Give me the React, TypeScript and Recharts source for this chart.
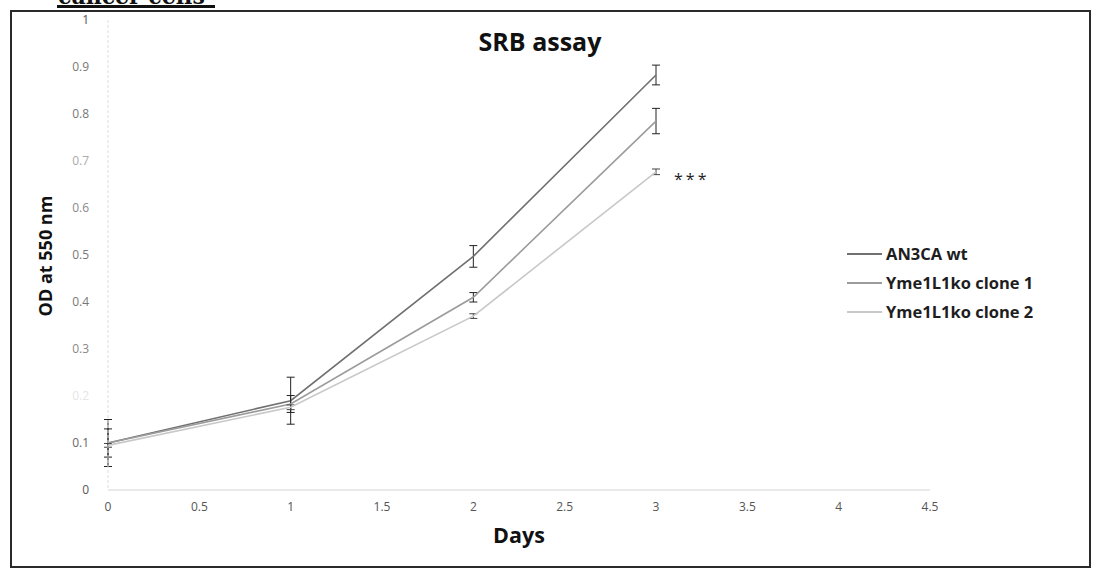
import React from 'react';
import { LineChart, Line, XAxis, YAxis, ErrorBar, LabelList } from 'recharts';

// Optical density (SRB assay) per day, mean and error for each cell line
const days = [0, 1, 2, 3];
const wtOD = [0.1, 0.19, 0.497, 0.883];
const wtErr = [0.05, 0.05, 0.023, 0.021];
const clone1OD = [0.1, 0.183, 0.41, 0.785];
const clone1Err = [0.03, 0.018, 0.01, 0.027];
const clone2OD = [0.095, 0.176, 0.37, 0.677];
const clone2Err = [0.004, 0.005, 0.005, 0.006];
const significance = ['', '', '', '***'];

const seriesNames = ['AN3CA wt', 'Yme1L1ko clone 1', 'Yme1L1ko clone 2'];
const seriesColors = ['#707070', '#9c9c9c', '#c8c8c8'];

const xTicks = [0, 0.5, 1, 1.5, 2, 2.5, 3, 3.5, 4, 4.5];
const yTicks = [0, 0.1, 0.2, 0.3, 0.4, 0.5, 0.6, 0.7, 0.8, 0.9, 1];
const yTickShade = ['#555', '#666', '#e6e6e6', '#888', '#777', '#777', '#888', '#aaa', '#777', '#777', '#555'];

const data = days.map((d, i) => ({
  day: d,
  wt: wtOD[i],
  wtErr: wtErr[i],
  c1: clone1OD[i],
  c1Err: clone1Err[i],
  c2: clone2OD[i],
  c2Err: clone2Err[i],
  sig: significance[i],
}));

const FONT = "'Open Sans', 'DejaVu Sans', sans-serif";

const YTick = (props: any) => {
  const { x, y, payload } = props;
  const idx = yTicks.indexOf(payload.value);
  return (
    <text x={x} y={y} dy="0.35em" textAnchor="end" fontFamily={FONT} fontSize={12} fill={yTickShade[idx] || '#666'}>
      {String(payload.value)}
    </text>
  );
};

const XTick = (props: any) => {
  const { x, y, payload } = props;
  return (
    <text x={x} y={y} dy="0.71em" textAnchor="middle" fontFamily={FONT} fontSize={12} fill="#555">
      {String(payload.value)}
    </text>
  );
};

const SigLabel = (props: any) => {
  const { x, y, value } = props;
  if (!value) return null;
  return (
    <text x={x + 18} y={y + 13} fontFamily={FONT} fontSize={16} fill="#222" letterSpacing={3}>
      {value}
    </text>
  );
};

// Series key, placed to the right of the plot area
const SeriesKey = () => (
  <div style={{ position: 'absolute', left: 847, top: 239, fontFamily: FONT }}>
    {seriesNames.map((name, i) => (
      <div key={name} style={{ display: 'flex', alignItems: 'center', height: 29 }}>
        <span style={{ display: 'inline-block', width: 35, borderTop: `2px solid ${seriesColors[i]}`, marginRight: 4 }} />
        <span style={{ fontSize: 16.5, fontWeight: 700, color: '#1e1e1e', whiteSpace: 'nowrap' }}>{name}</span>
      </div>
    ))}
  </div>
);

export default function App() {
  return (
    <div style={{ position: 'absolute', left: 0, top: 0, width: 1097, height: 571, background: '#fff', overflow: 'hidden' }}>
      <LineChart
        width={1097}
        height={571}
        data={data}
        margin={{ top: 20, right: 167, bottom: 51, left: 48 }}
      >
        <XAxis
          dataKey="day"
          type="number"
          domain={[0, 4.5]}
          ticks={xTicks}
          height={30}
          tickLine={false}
          tickSize={0}
          tickMargin={12}
          stroke="#d4d4d4"
          tick={<XTick />}
        />
        <YAxis
          type="number"
          domain={[0, 1]}
          ticks={yTicks}
          width={60}
          tickLine={false}
          tickSize={0}
          tickMargin={19}
          stroke="#dedede"
          strokeDasharray="3 2"
          tick={<YTick />}
        />
        <Line name={seriesNames[0]} dataKey="wt" stroke={seriesColors[0]} strokeWidth={1.6} dot={false} isAnimationActive={false}>
          <ErrorBar dataKey="wtErr" width={4} stroke="#222" strokeWidth={1} direction="y" />
        </Line>
        <Line name={seriesNames[1]} dataKey="c1" stroke={seriesColors[1]} strokeWidth={1.6} dot={false} isAnimationActive={false}>
          <ErrorBar dataKey="c1Err" width={4} stroke="#222" strokeWidth={1} direction="y" />
        </Line>
        <Line name={seriesNames[2]} dataKey="c2" stroke={seriesColors[2]} strokeWidth={1.6} dot={false} isAnimationActive={false}>
          <ErrorBar dataKey="c2Err" width={4} stroke="#444" strokeWidth={1} direction="y" />
          <LabelList dataKey="sig" content={<SigLabel />} />
        </Line>
      </LineChart>
      <SeriesKey />
      <svg width={1097} height={571} style={{ position: 'absolute', left: 0, top: 0, pointerEvents: 'none' }}>
        <text x={58} y={4} fontFamily="'DejaVu Serif', serif" fontWeight={700} fontSize={22} fill="#111">cancer cells</text>
        <rect x={57} y={5} width={158} height={3} fill="#111" />
        <rect x={11} y={11} width={1079} height={556} fill="none" stroke="#2a2a2a" strokeWidth={2} />
        <text x={540} y={51} textAnchor="middle" fontFamily={FONT} fontWeight={700} fontSize={25} fill="#111">SRB assay</text>
        <text x={519} y={543} textAnchor="middle" fontFamily={FONT} fontWeight={700} fontSize={21.5} fill="#111">Days</text>
        <text x={52} y={256} transform="rotate(-90 52 256)" textAnchor="middle" fontFamily={FONT} fontWeight={700} fontSize={18} fill="#111">OD at 550 nm</text>
      </svg>
    </div>
  );
}
